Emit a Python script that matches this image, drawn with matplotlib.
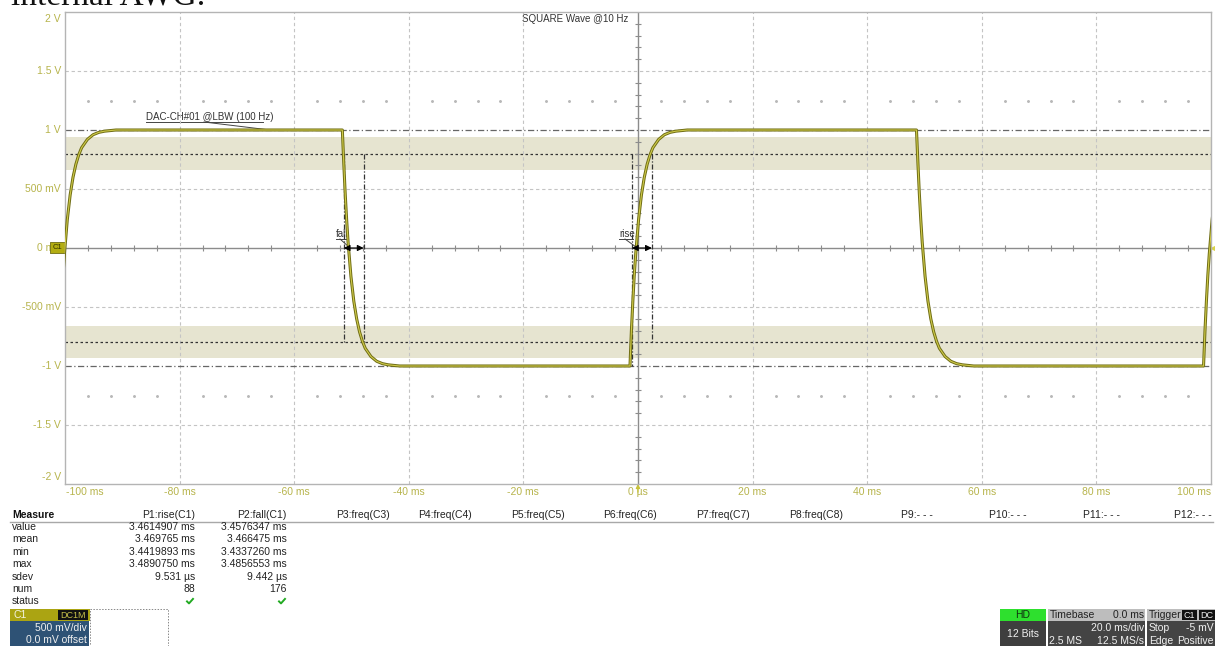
import matplotlib
matplotlib.use("Agg")
import matplotlib.pyplot as plt
from matplotlib.patches import Rectangle
import numpy as np

plt.rcParams['font.family'] = ['Liberation Sans', 'DejaVu Sans']

W, H = 1215, 646

# ---------------- waveform data ----------------
# rising / falling edge profiles: time after edge start (ms) and level (V)
EDGE_T = [0.0, 0.25, 0.5, 0.75, 1.0, 1.5, 2.0, 2.5, 3.0, 3.5, 4.0, 5.0, 6.0, 7.0, 8.0, 10.0]
RISE_V = [-1.0, -0.70, -0.45, -0.23, -0.05, 0.24, 0.45, 0.60, 0.71, 0.79, 0.85, 0.92, 0.96, 0.98, 0.99, 1.0]
FALL_V = [1.0, 0.72, 0.46, 0.24, 0.05, -0.24, -0.45, -0.60, -0.71, -0.79, -0.85, -0.92, -0.96, -0.98, -0.99, -1.0]
RISE_STARTS = [-101.1, -1.4, 98.7]   # ms
FALL_STARTS = [-51.6, 48.6]          # ms

# measurement results
MEAS_ROWS = ["value", "mean", "min", "max", "sdev", "num", "status"]
P1_RISE = ["3.4614907 ms", "3.469765 ms", "3.4419893 ms", "3.4890750 ms", "9.531 µs", "88", ""]
P2_FALL = ["3.4576347 ms", "3.466475 ms", "3.4337260 ms", "3.4856553 ms", "9.442 µs", "176", ""]
RISE_VALUE_MS = 3.4614907
FALL_VALUE_MS = 3.4576347
RISE_MARK_START = -1.05
FALL_MARK_START = -51.35
PARAM_HEADERS = ["P1:rise(C1)", "P2:fall(C1)", "P3:freq(C3)", "P4:freq(C4)", "P5:freq(C5)",
                 "P6:freq(C6)", "P7:freq(C7)", "P8:freq(C8)", "P9:- - -", "P10:- - -",
                 "P11:- - -", "P12:- - -"]

X_TICKS = [-100, -80, -60, -40, -20, 0, 20, 40, 60, 80, 100]
X_LABELS = ["-100 ms", "-80 ms", "-60 ms", "-40 ms", "-20 ms", "0 µs",
            "20 ms", "40 ms", "60 ms", "80 ms", "100 ms"]
Y_TICKS = [2, 1.5, 1, 0.5, 0, -0.5, -1, -1.5, -2]
Y_LABELS = ["2 V", "1.5 V", "1 V", "500 mV", "0 mV", "-500 mV", "-1 V", "-1.5 V", "-2 V"]

# threshold bands (V)
BAND_HI = (0.665, 0.94)
BAND_LO = (-0.93, -0.66)

# ---------------- build trace ----------------
edges = sorted([(s, RISE_V) for s in RISE_STARTS] + [(s, FALL_V) for s in FALL_STARTS],
               key=lambda e: e[0])
t_all, v_all = [], []
for start, prof in edges:
    t_all.extend([start + dt for dt in EDGE_T])
    v_all.extend(prof)

fig = plt.figure(figsize=(W / 100, H / 100), dpi=100)
fig.patch.set_facecolor("white")

# overlay in pixel coordinates for panels and text
ov = fig.add_axes([0, 0, 1, 1], zorder=0)
ov.set_xlim(0, W)
ov.set_ylim(H, 0)
ov.axis("off")

x0, x1, y0, y1 = 65, 1211, 12, 484
ax = fig.add_axes([x0 / W, 1 - y1 / H, (x1 - x0) / W, (y1 - y0) / H], zorder=2)
ax.set_xlim(-100, 100)
ax.set_ylim(-2, 2)
ax.set_facecolor("none")
for s in ax.spines.values():
    s.set_color("#b4b4b4")
    s.set_linewidth(1.0)
ax.set_xticks([])
ax.set_yticks([])

grid_kw = dict(color="#c4c4c4", lw=0.8, dashes=(3, 2.5), zorder=1)
for gx in X_TICKS[1:-1]:
    if gx != 0:
        ax.axvline(gx, **grid_kw)
for gy in [1.5, 0.5, -0.5, -1.5]:
    ax.axhline(gy, **grid_kw)

# threshold bands
ax.axhspan(*BAND_HI, color="#e6e4d0", lw=0, zorder=0.5)
ax.axhspan(*BAND_LO, color="#e6e4d0", lw=0, zorder=0.5)
ax.axhline(0.8, color="#333333", lw=0.9, dashes=(2, 2), zorder=1.5)
ax.axhline(-0.8, color="#333333", lw=0.9, dashes=(2, 2), zorder=1.5)
ax.axhline(1.0, color="#666666", lw=0.9, dashes=(5, 2, 1, 2), zorder=1.5)
ax.axhline(-1.0, color="#666666", lw=0.9, dashes=(5, 2, 1, 2), zorder=1.5)

# center axes with minor ticks
ax.axhline(0, color="#8c8c8c", lw=1.0, zorder=1.6)
ax.axvline(0, color="#8c8c8c", lw=1.0, zorder=1.6)
minor_t = [t for t in np.arange(-96, 100, 4) if t % 20 != 0]
ax.plot(minor_t, [0] * len(minor_t), ls="none", marker="|", ms=4, mew=0.8, color="#8c8c8c", zorder=1.6)
minor_v = [v for v in np.round(np.arange(-1.9, 2.0, 0.1), 2) if abs(v * 2 - round(v * 2)) > 1e-6]
ax.plot([0] * len(minor_v), minor_v, ls="none", marker="_", ms=4, mew=0.8, color="#8c8c8c", zorder=1.6)
for lvl in (1.25, -1.25):
    ax.plot(minor_t, [lvl] * len(minor_t), ls="none", marker="o", ms=1.1, color="#b8b8b8", zorder=1)

# trace
ax.plot(t_all, v_all, color="#6f6d14", lw=2.2, zorder=3, solid_joinstyle="round")
ax.plot(t_all, v_all, color="#cfca4a", lw=0.8, zorder=3.1)

# rise / fall markers
mk = dict(color="#333333", lw=0.9, dashes=(4, 1.5, 1, 1.5), zorder=2.5)
f_a, f_b = FALL_MARK_START, FALL_MARK_START + FALL_VALUE_MS
r_a, r_b = RISE_MARK_START, RISE_MARK_START + RISE_VALUE_MS
ax.plot([f_a, f_a], [0.8, -0.8], **mk)
ax.plot([f_b, f_b], [0.8, -0.8], **mk)
ax.plot([r_a, r_a], [0.8, -1.0], **mk)
ax.plot([r_b, r_b], [0.8, -0.8], **mk)
for a, b in ((f_a, f_b), (r_a, r_b)):
    ax.annotate("", xy=(a, 0), xytext=(b, 0),
                arrowprops=dict(arrowstyle="<|-|>", color="black", lw=0.8,
                                mutation_scale=9, shrinkA=0, shrinkB=0), zorder=4)

lab_col = "#b7b44c"
ov.text(146, 120, "DAC-CH#01 @LBW (100 Hz)", fontsize=7, color="#333333", va="baseline")
ov.plot([146, 263], [122, 122], color="#444444", lw=0.7)
ov.plot([204, 270], [122, 130], color="#444444", lw=0.7)
ov.text(336, 237, "fall", fontsize=7, color="#333333", va="baseline")
ov.plot([336, 348], [239, 239], color="#444444", lw=0.7)
ov.plot([340, 349], [239, 247], color="#444444", lw=0.7)
ov.text(619, 237, "rise", fontsize=7, color="#333333", va="baseline")
ov.plot([619, 633], [239, 239], color="#444444", lw=0.7)
ov.plot([625, 636], [239, 247], color="#444444", lw=0.7)
ov.text(628, 19, "SQUARE Wave @10 Hz", fontsize=7, color="#333333", ha="right", va="center")

# axis labels (outermost ones kept inside the graticule)
for v, s in zip(Y_TICKS, Y_LABELS):
    py = y0 + (2 - v) / 4 * (y1 - y0)
    if v == 2:
        py += 7
    elif v == -2:
        py -= 7
    ov.text(61, py, s, fontsize=7.5, color=lab_col, ha="right", va="center")
for t, s in zip(X_TICKS, X_LABELS):
    px = x0 + (t + 100) / 200 * (x1 - x0)
    ha = "left" if t == -100 else ("right" if t == 100 else "center")
    ov.text(px + (1 if t == -100 else 0), 492, s, fontsize=7.5, color=lab_col, ha=ha, va="center")

# channel badge on zero level and trigger marker
ov.add_patch(Rectangle((50, 242), 15, 11, facecolor="#b3ad12", edgecolor="#6f6d14", lw=0.6,
                       zorder=6, joinstyle="round"))
ov.text(57.5, 247.5, "C1", fontsize=5.5, color="#333300", ha="center", va="center", zorder=7)
ov.annotate("", xy=(638, 481), xytext=(638, 495),
            arrowprops=dict(arrowstyle="-|>", color="#c8c23a", lw=0.9, mutation_scale=6))
ov.plot([1213], [248], marker="<", ms=3, color="#d8d24a", zorder=6)

# page heading (cut at top)
ov.text(11, 5, "internal AWG.", fontsize=24, family=["Liberation Serif", "DejaVu Serif"],
        color="#111111", va="baseline", ha="left")

# ---------------- measurement table ----------------
ov.text(12, 515, "Measure", fontsize=7.5, fontweight="bold", color="#111111", va="center")
hdr_right = [195, 287, 390, 472, 565, 657, 750, 843, 933, 1027, 1120, 1212]
for xr, s in zip(hdr_right, PARAM_HEADERS):
    ov.text(xr, 515, s, fontsize=7.5, color="#222222", ha="right", va="center")
ov.plot([10, 1213], [521.5, 521.5], color="#a8a8a8", lw=1.0)
for i, name in enumerate(MEAS_ROWS):
    ry = 527 + i * 12.4
    ov.text(12, ry, name, fontsize=7.5, color="#222222", va="center")
    ov.text(195, ry, P1_RISE[i], fontsize=7.5, color="#222222", ha="right", va="center")
    ov.text(287, ry, P2_FALL[i], fontsize=7.5, color="#222222", ha="right", va="center")
check_y = 527 + 6 * 12.4
for xr in (190, 282):
    ov.plot([xr - 3, xr - 1, xr + 3], [check_y, check_y + 2, check_y - 2.5], color="#22aa22", lw=1.4)

# channel descriptor box
ov.add_patch(Rectangle((10, 609), 80, 12, facecolor="#aba412", lw=0))
ov.text(13, 615, "C1", fontsize=7.5, color="#f4f4e0", va="center")
ov.add_patch(Rectangle((58, 610), 30, 10, facecolor="#111111", lw=0))
ov.text(73, 615, "DC1M", fontsize=6.5, color="#c8c24a", ha="center", va="center")
ov.add_patch(Rectangle((10, 621), 79, 25, facecolor="#2e5275", lw=0))
ov.text(87, 628, "500 mV/div", fontsize=7.5, color="#f0f0f0", ha="right", va="center")
ov.text(87, 640, "0.0 mV offset", fontsize=7.5, color="#f0f0f0", ha="right", va="center")
ov.add_patch(Rectangle((90, 609), 78, 40, facecolor="none", edgecolor="#888888", lw=0.7,
                       linestyle=(0, (1.5, 1.5))))

# acquisition / timebase / trigger panels
ov.add_patch(Rectangle((1000, 609), 46, 12, facecolor="#2ee02e", lw=0))
ov.text(1023, 615, "HD", fontsize=7.5, color="#113311", ha="center", va="center")
ov.add_patch(Rectangle((1000, 621), 46, 25, facecolor="#3e3e3e", lw=0))
ov.text(1023, 634, "12 Bits", fontsize=7.5, color="#f0f0f0", ha="center", va="center")

ov.add_patch(Rectangle((1048, 609), 97, 12, facecolor="#bdbdbd", lw=0))
ov.text(1050, 615, "Timebase", fontsize=7.5, color="#222222", va="center")
ov.text(1144, 615, "0.0 ms", fontsize=7.5, color="#222222", ha="right", va="center")
ov.add_patch(Rectangle((1048, 621), 97, 25, facecolor="#444444", lw=0))
ov.text(1144, 628, "20.0 ms/div", fontsize=7.5, color="#f0f0f0", ha="right", va="center")
ov.text(1049, 641, "2.5 MS", fontsize=7.5, color="#f0f0f0", va="center")
ov.text(1144, 641, "12.5 MS/s", fontsize=7.5, color="#f0f0f0", ha="right", va="center")

ov.add_patch(Rectangle((1147, 609), 68, 12, facecolor="#bdbdbd", lw=0))
ov.text(1149, 615, "Trigger", fontsize=7.5, color="#222222", va="center")
ov.add_patch(Rectangle((1182, 610), 15, 10, facecolor="#111111", lw=0))
ov.text(1189.5, 615, "C1", fontsize=6.5, color="#f0f0f0", ha="center", va="center")
ov.add_patch(Rectangle((1199, 610), 16, 10, facecolor="#111111", lw=0))
ov.text(1207, 615, "DC", fontsize=6.5, color="#f0f0f0", ha="center", va="center")
ov.add_patch(Rectangle((1147, 621), 68, 25, facecolor="#444444", lw=0))
ov.text(1149, 628, "Stop", fontsize=7.5, color="#f0f0f0", va="center")
ov.text(1214, 628, "-5 mV", fontsize=7.5, color="#f0f0f0", ha="right", va="center")
ov.text(1149, 641, "Edge", fontsize=7.5, color="#f0f0f0", va="center")
ov.text(1214, 641, "Positive", fontsize=7.5, color="#f0f0f0", ha="right", va="center")

fig.savefig("out.png", dpi=100)
